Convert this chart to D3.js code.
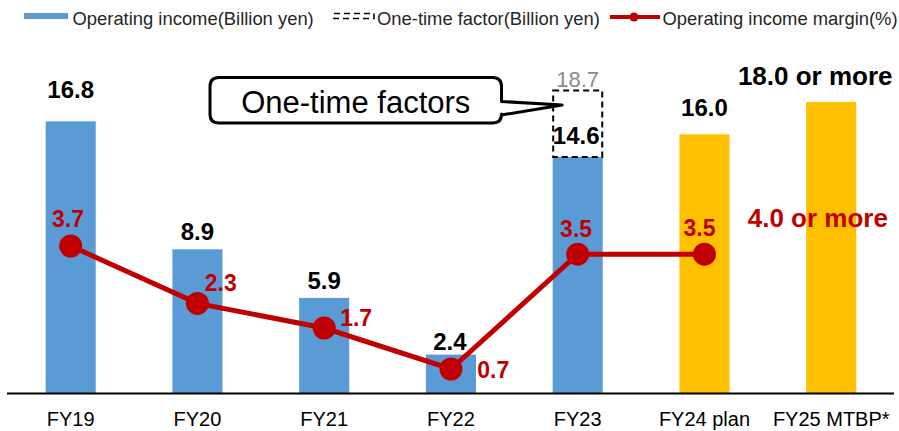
<!DOCTYPE html>
<html>
<head>
<meta charset="utf-8">
<script src="https://cdn.jsdelivr.net/npm/d3@7"></script>
<style>
  html, body { margin: 0; padding: 0; background: #fff; }
  svg { display: block; font-family: "Liberation Sans", Arial, sans-serif; }
</style>
</head>
<body>
<svg id="chart" width="899" height="431"></svg>
<script>
// ---- data ----
const categories = ["FY19", "FY20", "FY21", "FY22", "FY23", "FY24 plan", "FY25 MTBP*"];
const operatingIncome = [16.8, 8.9, 5.9, 2.4, 14.6, 16.0, 18.0];
const incomeLabels = ["16.8", "8.9", "5.9", "2.4", "14.6", "16.0", "18.0 or more"];
const isPlan = [false, false, false, false, false, true, true];
const oneTimeTotal = [null, null, null, null, 18.7, null, null];
const oneTimeLabels = [null, null, null, null, "18.7", null, null];
const margin = [3.7, 2.3, 1.7, 0.7, 3.5, 3.5, null];
const marginTarget = [null, null, null, null, null, null, 4.0];
const marginLabels = ["3.7", "2.3", "1.7", "0.7", "3.5", "3.5", "4.0 or more"];
const legendLabels = ["Operating income(Billion yen)", "One-time factor(Billion yen)", "Operating income margin(%)"];
const calloutText = "One-time factors";

// ---- layout (label nudges, as placed in the original slide) ----
const incomeLabelDx = [0, 0, 0, -1, -1.5, 0, -16];
const incomeLabelDy = [-23, -9, -9, -4.5, -13.4, -18.6, -16.7];
const marginLabelDx = [-2.7, 23.4, 32, 42.3, -1.6, -5, -13.4];
const marginLabelDy = [-19.3, -12.3, -2, 9.3, -17.6, -18.3, -7];

const colors = { actual: "#5B9BD5", plan: "#FFC000", line: "#C00000", text: "#000", legend: "#262626", grey: "#8C8C8C" };

const svg = d3.select("#chart");

const x = d3.scaleBand().domain(categories).range([7.3, 894.6]).paddingInner(0.605).paddingOuter(0.3025);
const y = d3.scaleLinear().domain([0, 20]).range([393.5, 69.5]);
const y2 = d3.scaleLinear().domain([0, 9.7]).range([397.7, 0]);

const rows = categories.map((c, i) => ({
  c, i, v: operatingIncome[i], lab: incomeLabels[i], plan: isPlan[i],
  ot: oneTimeTotal[i], otLab: oneTimeLabels[i], m: margin[i], mt: marginTarget[i], mLab: marginLabels[i]
}));

// bars
svg.append("g").selectAll("rect").data(rows).join("rect")
  .attr("x", d => x(d.c))
  .attr("width", x.bandwidth())
  .attr("y", d => y(d.v))
  .attr("height", d => y(0) - y(d.v))
  .attr("fill", d => d.plan ? colors.plan : colors.actual);

// one-time factor dashed boxes
const otRows = rows.filter(d => d.ot != null);
svg.append("g").selectAll("rect").data(otRows).join("rect")
  .attr("x", d => x(d.c) + 0.5)
  .attr("width", x.bandwidth() - 1)
  .attr("y", d => y(d.ot))
  .attr("height", d => y(d.v) - y(d.ot))
  .attr("fill", "none")
  .attr("stroke", "#000")
  .attr("stroke-width", 2)
  .attr("stroke-dasharray", "6,4");

svg.append("g").selectAll("text").data(otRows).join("text")
  .attr("x", d => x(d.c) + x.bandwidth() / 2)
  .attr("y", d => y(d.ot) - 4)
  .attr("text-anchor", "middle")
  .attr("font-size", 22)
  .attr("fill", colors.grey)
  .text(d => d.otLab);

// x axis
const xAxis = d3.axisBottom(x).tickSize(0).tickPadding(0);
const gx = svg.append("g").attr("transform", `translate(0,${y(0)})`).call(xAxis);
gx.select(".domain").attr("stroke", "#000").attr("stroke-width", 2).attr("d", "M7,0H894");
gx.selectAll(".tick text")
  .attr("font-family", "Liberation Sans, Arial, sans-serif")
  .attr("font-size", 20)
  .attr("fill", colors.text)
  .attr("dy", null)
  .attr("y", 32);

// income labels
svg.append("g").selectAll("text").data(rows).join("text")
  .attr("x", d => x(d.c) + x.bandwidth() / 2 + incomeLabelDx[d.i])
  .attr("y", d => y(d.v) + incomeLabelDy[d.i])
  .attr("text-anchor", "middle")
  .attr("font-weight", "bold")
  .attr("font-size", d => d.lab.includes("more") ? 26 : 24)
  .attr("fill", colors.text)
  .text(d => d.lab);

// margin line
const mRows = rows.filter(d => d.m != null);
const line = d3.line().x(d => x(d.c) + x.bandwidth() / 2).y(d => y2(d.m));
svg.append("path").datum(mRows)
  .attr("d", line)
  .attr("fill", "none")
  .attr("stroke", colors.line)
  .attr("stroke-width", 5);
svg.append("g").selectAll("circle").data(mRows).join("circle")
  .attr("cx", d => x(d.c) + x.bandwidth() / 2)
  .attr("cy", d => y2(d.m))
  .attr("r", 11.5)
  .attr("fill", colors.line);

// margin labels
svg.append("g").selectAll("text").data(rows).join("text")
  .attr("x", d => x(d.c) + x.bandwidth() / 2 + marginLabelDx[d.i])
  .attr("y", d => y2(d.m != null ? d.m : d.mt) + marginLabelDy[d.i])
  .attr("text-anchor", "middle")
  .attr("font-weight", "bold")
  .attr("font-size", d => d.mLab.includes("more") ? 26 : 23)
  .attr("fill", colors.line)
  .text(d => d.mLab);

// callout
const cx0 = 210, cx1 = 501.5, cy0 = 77.5, cy1 = 123, r = 9;
const tipX = x("FY23") + 9.5, tipY = 105;
const calloutPath = `M${cx0 + r},${cy0} H${cx1 - r} Q${cx1},${cy0} ${cx1},${cy0 + r} V101.5 L${tipX},${tipY} L${cx1},115 V${cy1 - r} Q${cx1},${cy1} ${cx1 - r},${cy1} H${cx0 + r} Q${cx0},${cy1} ${cx0},${cy1 - r} V${cy0 + r} Q${cx0},${cy0} ${cx0 + r},${cy0} Z`;
svg.append("path").attr("d", calloutPath)
  .attr("fill", "#fff").attr("stroke", "#000").attr("stroke-width", 3).attr("stroke-linejoin", "round");
svg.append("text")
  .attr("x", (cx0 + cx1) / 2).attr("y", 113.3)
  .attr("text-anchor", "middle").attr("font-size", 31).attr("fill", "#000")
  .text(calloutText);

// legend
const lg = svg.append("g");
lg.append("rect").attr("x", 24).attr("y", 13).attr("width", 44).attr("height", 6).attr("fill", colors.actual);
lg.append("text").attr("x", 72.5).attr("y", 24.5).attr("font-size", 18.4).attr("fill", colors.legend).text(legendLabels[0]);
lg.append("rect").attr("x", 334).attr("y", 13.5).attr("width", 40).attr("height", 5)
  .attr("fill", "none").attr("stroke", "#000").attr("stroke-width", 1.5).attr("stroke-dasharray", "6,4");
lg.append("text").attr("x", 377).attr("y", 24.5).attr("font-size", 18.4).attr("fill", colors.legend).text(legendLabels[1]);
lg.append("line").attr("x1", 610).attr("x2", 660).attr("y1", 17).attr("y2", 17)
  .attr("stroke", colors.line).attr("stroke-width", 4);
lg.append("circle").attr("cx", 634).attr("cy", 17).attr("r", 4.5).attr("fill", colors.line);
lg.append("text").attr("x", 662.5).attr("y", 24.5).attr("font-size", 18.4).attr("fill", colors.legend).text(legendLabels[2]);
</script>
</body>
</html>
